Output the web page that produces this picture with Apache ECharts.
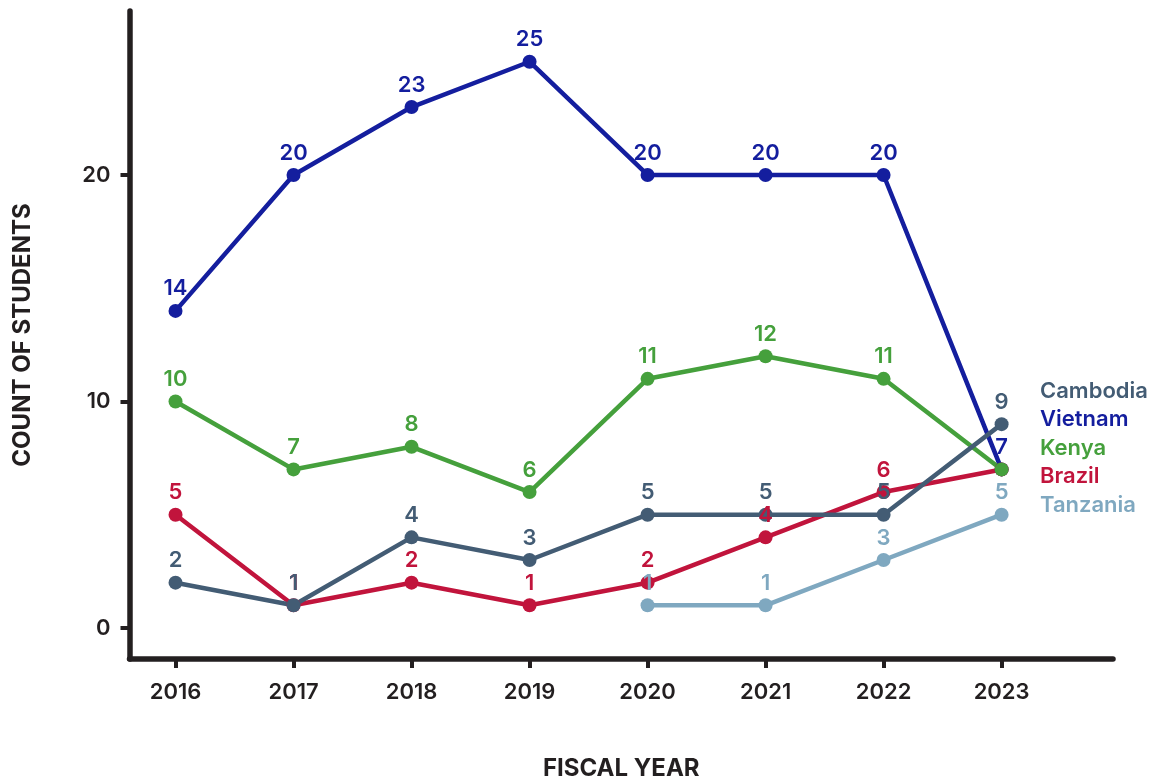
<!DOCTYPE html>
<html><head><meta charset="utf-8">
<script src="https://cdn.jsdelivr.net/npm/echarts@6/dist/echarts.min.js"></script>
<style>html,body{margin:0;padding:0;background:#fff}#c{width:1153px;height:782px}</style>
</head><body><div id="c"></div>
<script>
const years = [2016, 2017, 2018, 2019, 2020, 2021, 2022, 2023];
const cambodia = [2, 1, 4, 3, 5, 5, 5, 9];
const vietnam = [14, 20, 23, 25, 20, 20, 20, 7];
const kenya = [10, 7, 8, 6, 11, 12, 11, 7];
const brazil = [5, 1, 2, 1, 2, 4, 6, 7];
const tanzania = [null, null, null, null, 1, 1, 3, 5];
const yTickValues = [0, 10, 20];
const legendOrder = ['Cambodia', 'Vietnam', 'Kenya', 'Brazil', 'Tanzania'];

const colors = {
  Cambodia: '#435c74',
  Vietnam: '#141e9e',
  Kenya: '#45a03c',
  Brazil: '#c1143c',
  Tanzania: '#7fa8c0'
};
const hiddenLabels = { Kenya: [7], Brazil: [7] };
const FONT = 'Inter';
const AX = '#231f20';

function mk(name, vals) {
  const hide = hiddenLabels[name] || [];
  const data = vals.map((v, i) => {
    if (v === null) return [years[i], null];
    return hide.includes(i) ? { value: [years[i], v], label: { show: false } } : [years[i], v];
  });
  return {
    name, type: 'line', data,
    connectNulls: false,
    symbol: 'circle', symbolSize: 14,
    lineStyle: { width: 4.5, color: colors[name] },
    itemStyle: { color: colors[name] },
    label: {
      show: true, position: 'top', distance: 4,
      color: colors[name], fontFamily: FONT, fontSize: 22, fontWeight: 600
    },
    emphasis: { disabled: true },
    animation: false
  };
}

const chart = echarts.init(document.getElementById('c'), null, { renderer: 'canvas' });
chart.setOption({
  backgroundColor: '#fff',
  animation: false,
  grid: { left: 129.5, right: 40, top: 11, bottom: 123, containLabel: false, outerBoundsMode: 'none' },
  legend: {
    orient: 'vertical', left: 1030, top: 375,
    itemWidth: 0, itemHeight: 0, itemGap: 6.5, icon: 'none',
    selectedMode: false,
    data: legendOrder.map(n => ({ name: n, textStyle: { color: colors[n] } })),
    textStyle: { fontFamily: FONT, fontSize: 22, fontWeight: 600, lineHeight: 22 }
  },
  xAxis: {
    type: 'value', min: 2015.61, max: 2023.944,
    name: 'FISCAL YEAR', nameLocation: 'middle', nameGap: 98,
    nameTextStyle: { fontFamily: FONT, fontSize: 24, fontWeight: 700, color: AX },
    axisLine: { show: true, onZero: false, lineStyle: { color: AX, width: 5.5 } },
    axisTick: { show: true, length: 9, lineStyle: { color: AX, width: 4 }, customValues: years },
    axisLabel: { customValues: years, formatter: v => String(v), margin: 22,
      fontFamily: FONT, fontSize: 22, fontWeight: 600, color: AX },
    splitLine: { show: false }
  },
  yAxis: {
    type: 'value', min: -1.37, max: 27.24,
    name: 'COUNT OF STUDENTS', nameLocation: 'middle', nameGap: 95, nameRotate: 90,
    nameTextStyle: { fontFamily: FONT, fontSize: 24, fontWeight: 700, color: AX },
    axisLine: { show: true, onZero: false, lineStyle: { color: AX, width: 5.5 } },
    axisTick: { show: true, length: 9, lineStyle: { color: AX, width: 4 }, customValues: yTickValues },
    axisLabel: { customValues: yTickValues, margin: 19,
      fontFamily: FONT, fontSize: 22, fontWeight: 600, color: AX },
    splitLine: { show: false }
  },
  series: [
    mk('Vietnam', vietnam),
    mk('Tanzania', tanzania),
    mk('Brazil', brazil),
    mk('Kenya', kenya),
    mk('Cambodia', cambodia)
  ]
});
</script>
</body></html>
